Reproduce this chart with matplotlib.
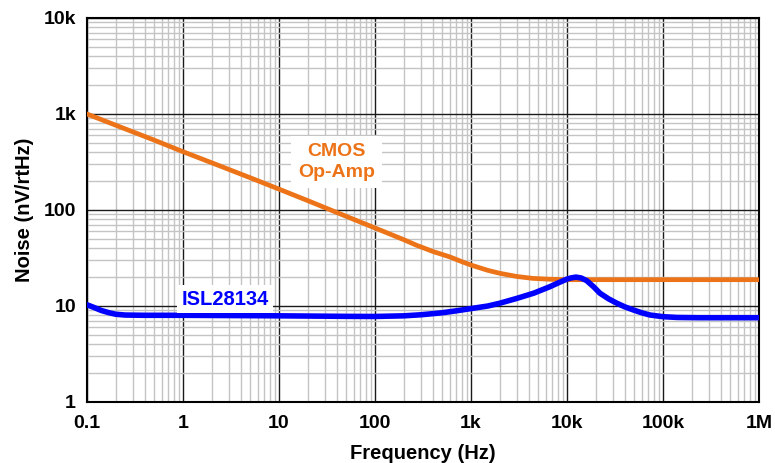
# Noise density: CMOS op-amp vs ISL28134
import matplotlib.pyplot as plt
from matplotlib.ticker import LogLocator, FixedLocator, NullFormatter

plt.rcParams['font.family'] = ['Liberation Sans', 'DejaVu Sans']

# CMOS op-amp noise (Hz, nV/rtHz)
cmos_f = [0.1, 0.2, 0.5, 1, 2, 5, 10, 20, 50, 100, 200, 270, 400, 600, 800, 1000, 1500,
          2000, 3000, 4400, 6600, 10000, 20000, 100000, 1000000]
cmos_v = [1000, 763, 535, 405, 310, 217, 165, 125, 86, 65, 49, 43, 37, 32.5, 29, 26.7, 23.5,
          21.9, 20.3, 19.4, 19.0, 18.8, 18.8, 18.8, 18.8]

# ISL28134 noise
isl_f = [0.1, 0.12, 0.14, 0.17, 0.2, 0.25, 0.4, 1, 10, 50, 100, 200, 300, 500, 700, 1000,
         1500, 2000, 3000, 4500, 6650, 8200, 9900, 11000, 12400, 14000, 16000, 19000, 22000,
         27000, 33000, 40000, 49000, 60000, 73000, 100000, 140000, 240000, 1000000]
isl_v = [10.3, 9.6, 9.0, 8.5, 8.2, 8.05, 8.0, 8.0, 7.9, 7.8, 7.78, 7.9, 8.1, 8.5, 8.9, 9.4,
         10.0, 10.7, 12.0, 13.6, 15.9, 17.5, 19.0, 19.6, 20.0, 19.6, 18.4, 15.8, 13.6,
         11.9, 10.7, 9.8, 9.1, 8.5, 8.06, 7.74, 7.6, 7.55, 7.55]

x_ticks = [0.1, 1, 10, 100, 1e3, 1e4, 1e5, 1e6]
x_labels = ['0.1', '1', '10', '100', '1k', '10k', '100k', '1M']
y_ticks = [1, 10, 100, 1e3, 1e4]
y_labels = ['1', '10', '100', '1k', '10k']

fig = plt.figure(figsize=(7.75, 4.63), dpi=100)
ax = fig.add_axes([87/775, 1 - 402/463, 672/775, 384/463])

ax.set_xscale('log')
ax.set_yscale('log')
ax.set_xlim(0.1, 1e6)
ax.set_ylim(1, 1e4)

ax.xaxis.set_major_locator(FixedLocator(x_ticks))
ax.yaxis.set_major_locator(FixedLocator(y_ticks))
ax.xaxis.set_minor_locator(LogLocator(base=10, subs=range(2, 10), numticks=20))
ax.yaxis.set_minor_locator(LogLocator(base=10, subs=range(2, 10), numticks=20))
ax.xaxis.set_minor_formatter(NullFormatter())
ax.yaxis.set_minor_formatter(NullFormatter())
ax.set_xticklabels(x_labels)
ax.set_yticklabels(y_labels)

ax.grid(which='minor', color='#c4c4c4', lw=1.0, zorder=0)
ax.grid(which='major', color='#1a1a1a', lw=1.0, zorder=1)
ax.set_axisbelow(True)
ax.tick_params(which='both', length=0)
ax.tick_params(axis='x', pad=9, labelsize=14)
ax.tick_params(axis='y', pad=8, labelsize=14)
for lab in ax.get_xticklabels() + ax.get_yticklabels():
    lab.set_fontweight('bold')
for s in ax.spines.values():
    s.set_linewidth(1.5)
    s.set_color('black')

ax.plot(cmos_f, cmos_v, color='#ec7317', lw=3.4, solid_joinstyle='round', zorder=3)
ax.plot(isl_f, isl_v, color='#0000ff', lw=4.0, solid_joinstyle='round', zorder=4)

ax.text(40, 316, 'CMOS\nOp-Amp', color='#ec7317', fontsize=14, fontweight='bold',
        ha='center', va='center', linespacing=1.25,
        bbox=dict(facecolor='white', edgecolor='none', pad=5), zorder=5)
ax.text(2.74, 11.8, 'ISL28134', color='#0000ff', fontsize=14.5, fontweight='bold',
        ha='center', va='center',
        bbox=dict(facecolor='white', edgecolor='none', pad=3), zorder=5)

ax.set_xlabel('Frequency (Hz)', fontsize=14.5, fontweight='bold', labelpad=9)
ax.set_ylabel('Noise (nV/rtHz)', fontsize=14.5, fontweight='bold', labelpad=7)

fig.savefig('out.png', dpi=100)
